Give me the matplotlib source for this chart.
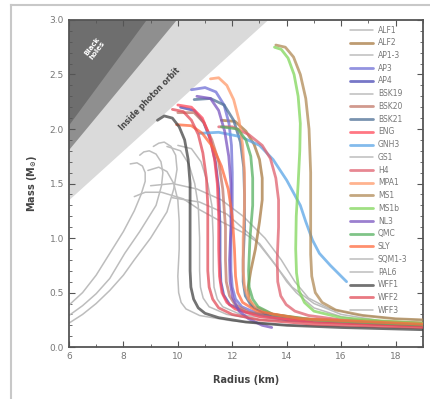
import matplotlib

matplotlib.use("Agg")
import matplotlib.pyplot as plt
import numpy as np
from matplotlib.lines import Line2D
from matplotlib.ticker import FormatStrFormatter, MultipleLocator

# ---- mass-radius curves (radius km, mass Msun) ----
ALF1_R = [8.4, 8.8, 9.4, 10.2, 10.8, 11.6, 12.4, 13.0, 13.6, 14.0, 14.35, 15.0, 16.0, 17.0, 19.0]
ALF1_M = [1.38, 1.42, 1.42, 1.36, 1.26, 1.15, 1.05, 0.95, 0.75, 0.6, 0.5, 0.36, 0.28, 0.24, 0.2]
ALF2_R = [11.6, 12.1, 12.5, 12.8, 13.0, 13.1, 13.1, 13.0, 12.85, 12.68, 12.58, 12.62, 12.8, 13.2, 14.5, 19.0]
ALF2_M = [2.08, 2.07, 1.98, 1.86, 1.72, 1.55, 1.35, 1.15, 0.9, 0.7, 0.55, 0.44, 0.36, 0.31, 0.26, 0.22]
AP13_R = [8.9, 9.3, 9.6, 9.85, 10.0, 10.05, 10.05, 10.0, 10.03, 10.12, 10.3, 10.8, 12.0, 14.0, 19.0]
AP13_M = [1.62, 1.65, 1.61, 1.5, 1.35, 1.15, 0.9, 0.65, 0.5, 0.41, 0.35, 0.29, 0.24, 0.2, 0.17]
AP3_R = [10.5, 11.0, 11.4, 11.7, 11.88, 11.97, 12.0, 12.0, 11.95, 11.95, 12.0, 12.12, 12.35, 12.9, 14.5, 19.0]
AP3_M = [2.36, 2.38, 2.34, 2.22, 2.05, 1.85, 1.6, 1.3, 1.0, 0.7, 0.55, 0.44, 0.37, 0.31, 0.25, 0.2]
AP4_R = [10.1, 10.6, 10.95, 11.2, 11.38, 11.5, 11.55, 11.55, 11.58, 11.68, 11.9, 12.5, 14.0, 19.0]
AP4_M = [2.2, 2.17, 2.06, 1.9, 1.7, 1.45, 1.1, 0.8, 0.6, 0.48, 0.39, 0.32, 0.25, 0.2]
BSK19_R = [10.0, 10.5, 10.85, 11.1, 11.25, 11.3, 11.3, 11.33, 11.45, 11.65, 12.3, 14.0, 19.0]
BSK19_M = [1.85, 1.82, 1.7, 1.5, 1.3, 1.0, 0.7, 0.55, 0.44, 0.37, 0.3, 0.24, 0.19]
BSK20_R = [10.0, 10.6, 10.95, 11.25, 11.5, 11.65, 11.75, 11.75, 11.78, 11.9, 12.1, 12.6, 14.0, 19.0]
BSK20_M = [2.15, 2.15, 2.06, 1.9, 1.7, 1.45, 1.1, 0.8, 0.6, 0.47, 0.39, 0.32, 0.26, 0.2]
BSK21_R = [10.6, 11.2, 11.7, 12.05, 12.3, 12.42, 12.45, 12.45, 12.4, 12.4, 12.48, 12.7, 13.2, 15.0, 19.0]
BSK21_M = [2.27, 2.28, 2.22, 2.08, 1.88, 1.65, 1.4, 1.1, 0.8, 0.6, 0.47, 0.38, 0.31, 0.24, 0.2]
ENG_R = [10.0, 10.5, 10.9, 11.15, 11.35, 11.45, 11.5, 11.5, 11.53, 11.62, 11.8, 12.1, 13.0, 15.0, 19.0]
ENG_M = [2.22, 2.2, 2.1, 1.95, 1.72, 1.5, 1.2, 0.9, 0.65, 0.5, 0.41, 0.35, 0.28, 0.23, 0.19]
GNH3_R = [10.8, 11.5, 12.3, 13.0, 13.5, 14.0, 14.5, 14.7, 14.95, 15.2, 15.6, 16.2]
GNH3_M = [1.96, 1.97, 1.93, 1.85, 1.72, 1.53, 1.3, 1.15, 0.98, 0.86, 0.75, 0.6]
GS1_R = [9.8, 10.8, 11.8, 12.8, 13.5, 14.2, 15.0, 16.0, 17.5, 19.0]
GS1_M = [1.37, 1.33, 1.22, 1.0, 0.78, 0.55, 0.4, 0.3, 0.24, 0.21]
H4_R = [11.5, 12.0, 12.6, 13.1, 13.4, 13.6, 13.7, 13.7, 13.65, 13.67, 13.78, 13.98, 14.3, 14.8, 16.0, 19.0]
H4_M = [2.02, 2.02, 1.95, 1.85, 1.73, 1.55, 1.35, 1.1, 0.8, 0.6, 0.47, 0.39, 0.33, 0.29, 0.25, 0.22]
MPA1_R = [11.2, 11.5, 11.8, 12.05, 12.25, 12.38, 12.45, 12.45, 12.4, 12.4, 12.45, 12.6, 12.85, 13.5, 15.0, 19.0]
MPA1_M = [2.46, 2.47, 2.4, 2.27, 2.08, 1.85, 1.6, 1.3, 1.0, 0.7, 0.55, 0.44, 0.37, 0.3, 0.25, 0.21]
MS1_R = [13.6, 13.95, 14.25, 14.5, 14.7, 14.82, 14.88, 14.88, 14.88, 14.92, 15.05, 15.3, 15.8, 16.8, 18.0, 19.0]
MS1_M = [2.77, 2.75, 2.66, 2.5, 2.28, 2.0, 1.6, 1.2, 0.85, 0.65, 0.5, 0.41, 0.34, 0.29, 0.26, 0.25]
MS1B_R = [13.55, 13.8, 14.05, 14.27, 14.42, 14.5, 14.48, 14.42, 14.35, 14.33, 14.36, 14.45, 14.65, 15.0, 16.0, 17.5, 19.0]
MS1B_M = [2.75, 2.73, 2.65, 2.5, 2.3, 2.05, 1.8, 1.5, 1.2, 0.9, 0.68, 0.52, 0.41, 0.33, 0.27, 0.24, 0.22]
NL3_R = [10.7, 11.2, 11.5, 11.72, 11.87, 11.95, 11.95, 11.9, 11.92, 12.02, 12.25, 12.6, 13.1, 13.45]
NL3_M = [2.3, 2.28, 2.17, 1.98, 1.75, 1.5, 1.1, 0.8, 0.6, 0.45, 0.33, 0.26, 0.2, 0.18]
QMC_R = [11.6, 12.2, 12.5, 12.68, 12.75, 12.75, 12.65, 12.6, 12.62, 12.75, 12.95, 13.5, 15.0, 19.0]
QMC_M = [2.02, 2.0, 1.9, 1.75, 1.55, 1.3, 1.0, 0.7, 0.55, 0.44, 0.37, 0.3, 0.25, 0.2]
SLY_R = [9.95, 10.5, 10.9, 11.3, 11.6, 11.85, 12.0, 12.08, 12.12, 12.2, 12.38, 12.9, 14.5, 19.0]
SLY_M = [2.04, 2.03, 1.96, 1.83, 1.66, 1.45, 1.2, 0.9, 0.65, 0.5, 0.41, 0.33, 0.26, 0.21]
SQM1_R = [6.0, 6.5, 7.0, 7.5, 8.0, 8.4, 8.65, 8.8, 8.8, 8.7, 8.5, 8.25]
SQM1_M = [0.385, 0.5, 0.66, 0.86, 1.06, 1.25, 1.4, 1.52, 1.6, 1.66, 1.69, 1.68]
SQM2_R = [6.0, 6.5, 7.0, 7.5, 8.05, 8.6, 9.2, 9.4, 9.45, 9.38, 9.2, 8.95, 8.75, 8.6]
SQM2_M = [0.29, 0.38, 0.49, 0.63, 0.86, 1.06, 1.3, 1.48, 1.6, 1.7, 1.77, 1.8, 1.79, 1.76]
SQM3_R = [6.0, 6.5, 7.0, 7.5, 8.0, 8.4, 9.0, 9.6, 9.85, 9.97, 9.92, 9.75, 9.5, 9.3, 9.1]
SQM3_M = [0.22, 0.3, 0.4, 0.52, 0.66, 0.8, 1.0, 1.24, 1.45, 1.63, 1.76, 1.84, 1.88, 1.87, 1.84]
PAL6_R = [9.0, 9.8, 10.7, 11.6, 12.4, 13.2, 13.8, 14.3, 14.8, 15.5, 16.5, 18.0, 19.0]
PAL6_M = [1.48, 1.5, 1.45, 1.35, 1.2, 1.0, 0.8, 0.6, 0.45, 0.36, 0.3, 0.26, 0.25]
WFF1_R = [9.25, 9.5, 9.8, 10.05, 10.25, 10.38, 10.45, 10.45, 10.45, 10.48, 10.58, 10.75, 11.0, 11.5, 12.5, 14.0, 16.0, 19.0]
WFF1_M = [2.08, 2.12, 2.1, 2.02, 1.9, 1.72, 1.5, 1.0, 0.7, 0.55, 0.44, 0.36, 0.31, 0.27, 0.23, 0.2, 0.18, 0.16]
WFF2_R = [9.8, 10.2, 10.5, 10.75, 10.92, 11.05, 11.1, 11.1, 11.1, 11.15, 11.28, 11.5, 12.0, 13.0, 15.0, 19.0]
WFF2_M = [2.18, 2.16, 2.08, 1.95, 1.78, 1.55, 1.3, 1.0, 0.7, 0.55, 0.44, 0.36, 0.3, 0.25, 0.21, 0.18]
WFF3_R = [9.6, 10.1, 10.4, 10.62, 10.75, 10.8, 10.8, 10.83, 10.93, 11.15, 11.8, 13.0, 19.0]
WFF3_M = [1.84, 1.8, 1.68, 1.5, 1.3, 1.0, 0.7, 0.55, 0.45, 0.37, 0.3, 0.25, 0.19]

LABELS = ["ALF1", "ALF2", "AP1-3", "AP3", "AP4", "BSK19", "BSK20", "BSK21", "ENG",
          "GNH3", "GS1", "H4", "MPA1", "MS1", "MS1b", "NL3", "QMC", "SLY", "SQM1-3",
          "PAL6", "WFF1", "WFF2", "WFF3"]

GREY = "#bdbdbd"
COLORS = {
    "ALF1": GREY, "ALF2": "#a87a42", "AP1-3": GREY, "AP3": "#6f6fd6", "AP4": "#4a4ab5",
    "BSK19": GREY, "BSK20": "#c27868", "BSK21": "#4d6f95", "ENG": "#ff4a5a",
    "GNH3": "#5aa5e6", "GS1": GREY, "H4": "#e0606e", "MPA1": "#ff9a6a", "MS1": "#b08a55",
    "MS1b": "#80d65a", "NL3": "#7a55c0", "QMC": "#55b060", "SLY": "#ff6a3d",
    "SQM1-3": GREY, "PAL6": GREY, "WFF1": "#444444", "WFF2": "#e24c58", "WFF3": GREY,
}

curves = {
    "ALF1": [(ALF1_R, ALF1_M)], "ALF2": [(ALF2_R, ALF2_M)], "AP1-3": [(AP13_R, AP13_M)],
    "AP3": [(AP3_R, AP3_M)], "AP4": [(AP4_R, AP4_M)], "BSK19": [(BSK19_R, BSK19_M)],
    "BSK20": [(BSK20_R, BSK20_M)], "BSK21": [(BSK21_R, BSK21_M)], "ENG": [(ENG_R, ENG_M)],
    "GNH3": [(GNH3_R, GNH3_M)], "GS1": [(GS1_R, GS1_M)], "H4": [(H4_R, H4_M)],
    "MPA1": [(MPA1_R, MPA1_M)], "MS1": [(MS1_R, MS1_M)], "MS1b": [(MS1B_R, MS1B_M)],
    "NL3": [(NL3_R, NL3_M)], "QMC": [(QMC_R, QMC_M)], "SLY": [(SLY_R, SLY_M)],
    "SQM1-3": [(SQM1_R, SQM1_M), (SQM2_R, SQM2_M), (SQM3_R, SQM3_M)],
    "PAL6": [(PAL6_R, PAL6_M)], "WFF1": [(WFF1_R, WFF1_M)], "WFF2": [(WFF2_R, WFF2_M)],
    "WFF3": [(WFF3_R, WFF3_M)],
}

GM_C2 = 1.4766  # km per solar mass

fig = plt.figure(figsize=(4.31, 3.99), dpi=100, facecolor="white")
ax = fig.add_axes([0.160, 0.130, 0.821, 0.820])

# forbidden regions: R < 2GM/c^2, R < 9/4 GM/c^2, R < 3GM/c^2
r = np.linspace(6, 19, 200)
ax.fill_between(r, r / (3 * GM_C2), 3.0, color="#dadada", lw=0, zorder=0)
ax.fill_between(r, r / (2.25 * GM_C2), 3.0, color="#8f8f8f", lw=0, zorder=0)
ax.fill_between(r, r / (2 * GM_C2), 3.0, color="#6e6e6e", lw=0, zorder=0)
ax.text(6.95, 2.74, "Black\nholes", rotation=53, color="white", fontsize=5,
        fontweight="bold", ha="center", va="center", linespacing=0.9)
ax.text(8.95, 2.28, "Inside photon orbit", rotation=46, color="#444444", fontsize=5.5,
        fontweight="bold", ha="center", va="center")

for name in LABELS:
    col = COLORS[name]
    grey = col == GREY
    for i, (rr, mm) in enumerate(curves[name]):
        ax.plot(rr, mm, color=col, lw=1.1 if grey else 2.0, alpha=1.0 if grey else 0.75,
                solid_capstyle="round", solid_joinstyle="round",
                zorder=2 if grey else 3, label=name if i == 0 else None)

ax.set_xlim(6, 19)
ax.set_ylim(0, 3.0)
ax.xaxis.set_major_locator(MultipleLocator(2))
ax.xaxis.set_minor_locator(MultipleLocator(1))
ax.yaxis.set_major_locator(MultipleLocator(0.5))
ax.yaxis.set_minor_locator(MultipleLocator(0.1))
ax.yaxis.set_major_formatter(FormatStrFormatter("%.1f"))
ax.tick_params(which="both", direction="in", top=True, right=True, colors="#555555",
               labelcolor="#777777", labelsize=6.5)
ax.tick_params(which="major", length=4, width=0.8)
ax.tick_params(which="minor", length=2, width=0.6)
for s in ax.spines.values():
    s.set_color("#555555")
    s.set_linewidth(1.3)

ax.set_xlabel("Radius (km)", fontsize=7, fontweight="bold", color="#444444", labelpad=10)
ax.set_ylabel(r"Mass (M$_\mathbf{\odot}$)", fontsize=7, fontweight="bold", color="#444444",
              labelpad=8)

leg = ax.legend(loc="upper left", bbox_to_anchor=(0.795, 0.983), frameon=False,
                fontsize=5.5, labelspacing=0.49, handlelength=3.0, handletextpad=0.6,
                borderaxespad=0, borderpad=0)
for t in leg.get_texts():
    t.set_color("#777777")

# light outer frame of the screenshot
fig.add_artist(Line2D([11 / 431, 11 / 431], [0, 1 - 5 / 399], color="#c8c8c8", lw=1.5))
fig.add_artist(Line2D([11 / 431, 1], [1 - 5 / 399, 1 - 5 / 399], color="#c8c8c8", lw=1.5))

fig.savefig("out.png", dpi=100, facecolor="white")
